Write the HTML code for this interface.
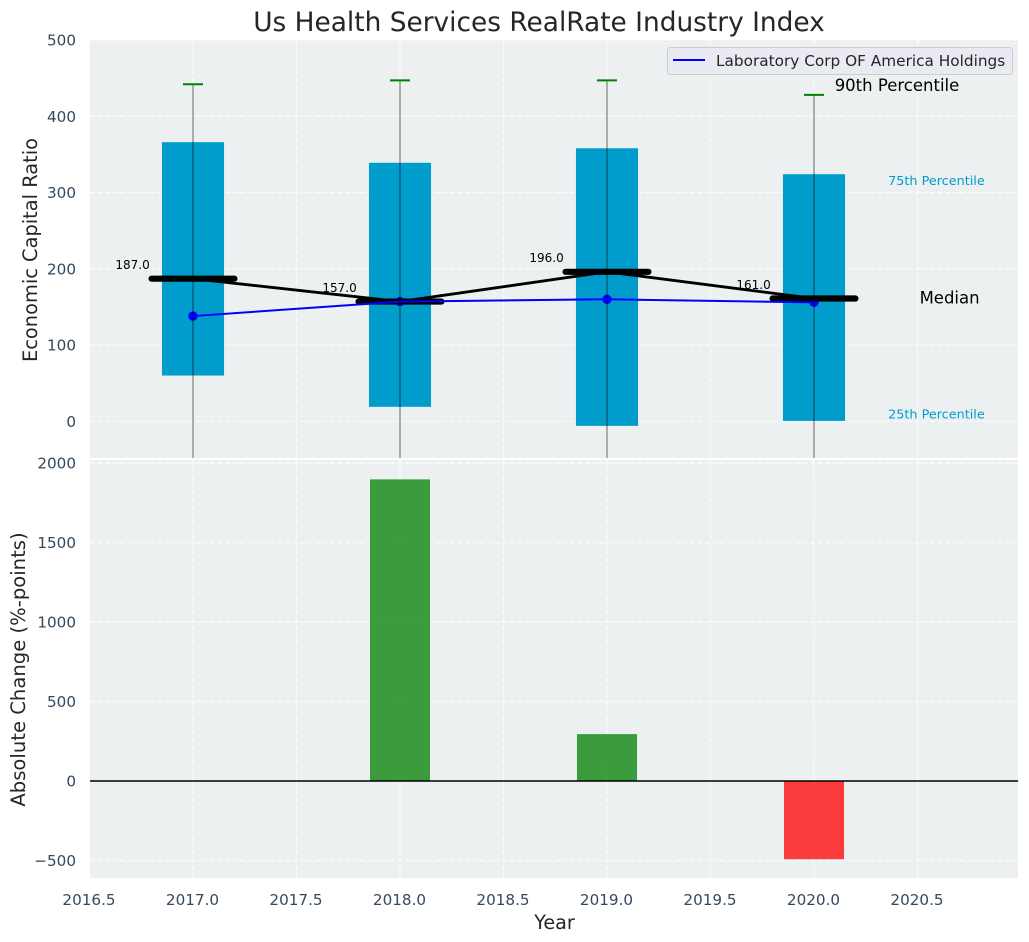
<!DOCTYPE html>
<html>
<head>
<meta charset="utf-8">
<title>Us Health Services RealRate Industry Index</title>
<style>
html,body{margin:0;padding:0;background:#fff;width:1029px;height:942px;overflow:hidden}
svg{display:block}
text{font-family:"DejaVu Sans","Liberation Sans",sans-serif}
</style>
</head>
<body>
<svg id="chart" xmlns="http://www.w3.org/2000/svg" width="1029" height="942" viewBox="0 0 1029 942">
  <defs>
    <clipPath id="clip-top"><rect x="90" y="40" width="928" height="418"/></clipPath>
    <clipPath id="clip-bottom"><rect x="90" y="460" width="928" height="418"/></clipPath>
  </defs>
  <rect x="90" y="40" width="928" height="418" fill="#ecf0f1"/>
  <rect x="90" y="460" width="928" height="418" fill="#ecf0f1"/>
  <g id="top-grid" clip-path="url(#clip-top)"></g>
  <g id="bottom-grid" clip-path="url(#clip-bottom)"></g>
  <g id="top-marks" clip-path="url(#clip-top)"></g>
  <g id="bottom-marks" clip-path="url(#clip-bottom)"></g>
  <g id="tick-labels"></g>
  <text x="539" y="31" text-anchor="middle" font-size="26.4" fill="#262626">Us Health Services RealRate Industry Index</text>
  <text transform="translate(37,250) rotate(-90)" text-anchor="middle" font-size="19.4" fill="#262626">Economic Capital Ratio</text>
  <text transform="translate(25,669.5) rotate(-90)" text-anchor="middle" font-size="19.6" fill="#262626">Absolute Change (%-points)</text>
  <text x="554.5" y="929" text-anchor="middle" font-size="19.2" fill="#262626">Year</text>
  <g>
    <rect x="667.5" y="47.5" width="345" height="27" rx="3" fill="#eaeaf2" fill-opacity="0.9" stroke="#cccccc"/>
    <line x1="673" y1="60" x2="705" y2="60" stroke="#0000ff" stroke-width="2"/>
    <text x="716" y="66" font-size="15.3" fill="#262626">Laboratory Corp OF America Holdings</text>
  </g>
</svg>
<script>
var years = [2017, 2018, 2019, 2020];
var p90 = [442, 447, 447, 428];
var p75 = [366, 339, 358, 324];
var p50 = [187, 157, 196, 161];
var p25 = [60, 19, -6, 0.5];
var p10 = [-60, -60, -60, -60];
var company = [138, 157, 160, 156];
var changeYears = [2018, 2019, 2020];
var changes = [1897, 295, -492];
var xTicks = [2016.5, 2017, 2017.5, 2018, 2018.5, 2019, 2019.5, 2020, 2020.5];
var topTicks = [0, 100, 200, 300, 400, 500];
var bottomTicks = [-500, 0, 500, 1000, 1500, 2000];

var NS = 'http://www.w3.org/2000/svg';
function x(v) { return 193 + (v - 2017) * 207; }
function yTop(v) { return 421.3 - v * 0.7626; }
function yBottom(v) { return 781 - v * 0.159; }
function make(parent, tag, attrs, text) {
  var el = document.createElementNS(NS, tag);
  for (var k in attrs) el.setAttribute(k, attrs[k]);
  if (text !== undefined) el.textContent = text;
  parent.appendChild(el);
  return el;
}
var topGrid = document.getElementById('top-grid');
var bottomGrid = document.getElementById('bottom-grid');
var topMarks = document.getElementById('top-marks');
var bottomMarks = document.getElementById('bottom-marks');
var tickLabels = document.getElementById('tick-labels');
var TICK_SIZE = 15.2;

function gridLine(parent, a, b, c, d) {
  var g = make(parent, 'line', {x1: a, y1: b, x2: c, y2: d, stroke: '#ffffff', 'stroke-width': 1.2, 'stroke-opacity': 0.8, 'stroke-dasharray': '5 2.5'});
  
  
}

xTicks.forEach(function (t) {
  gridLine(topGrid, x(t), 40, x(t), 458);
  gridLine(bottomGrid, x(t), 460, x(t), 878);
  var lab = make(tickLabels, 'text', {x: x(t) - 0.5, y: 905, 'text-anchor': 'middle', 'font-size': TICK_SIZE, fill: '#34495e'}, t.toFixed(1));
  
  
});
topTicks.forEach(function (t) {
  gridLine(topGrid, 90, yTop(t), 1018, yTop(t));
  var lab = make(tickLabels, 'text', {x: 76, y: yTop(t) + 5.5, 'text-anchor': 'end', 'font-size': TICK_SIZE, fill: '#34495e'}, String(t));
  
  
});
bottomTicks.forEach(function (t) {
  gridLine(bottomGrid, 90, yBottom(t), 1018, yBottom(t));
  var lab = make(tickLabels, 'text', {x: 76, y: yBottom(t) + 5.5, 'text-anchor': 'end', 'font-size': TICK_SIZE, fill: '#34495e'}, String(t).replace('-', '\u2212'));
  
  
});

years.forEach(function (yr, i) {
  var box = make(topMarks, 'rect', {x: x(yr - 0.15), y: yTop(p75[i]), width: x(yr + 0.15) - x(yr - 0.15), height: yTop(p25[i]) - yTop(p75[i]), fill: '#009ccc'});
  
  
});

function pointsOf(xs, ys) {
  return xs.map(function (v, i) { return x(v) + ',' + yTop(ys[i]); }).join(' ');
}

years.forEach(function (yr, i) {
  var dot = make(topMarks, 'circle', {cx: x(yr), cy: yTop(company[i]), r: 4.7, fill: '#0000ff'});
  
  
});

years.forEach(function (yr, i) {
  var whisker = make(topMarks, 'line', {x1: x(yr), y1: yTop(p90[i]), x2: x(yr), y2: yTop(p10[i]), stroke: '#000000', 'stroke-opacity': 0.45, 'stroke-width': 1.3});
  
  
  var cap = make(topMarks, 'line', {x1: x(yr) - 10, y1: yTop(p90[i]), x2: x(yr) + 10, y2: yTop(p90[i]), stroke: '#008000', 'stroke-width': 2});
  
  
});

var medianLine = make(topMarks, 'polyline', {points: pointsOf(years, p50), fill: 'none', stroke: '#000000', 'stroke-width': 2.8});


years.forEach(function (yr, i) {
  var tick = make(topMarks, 'line', {x1: x(yr - 0.2), y1: yTop(p50[i]), x2: x(yr + 0.2), y2: yTop(p50[i]), stroke: '#000000', 'stroke-width': 6.2, 'stroke-linecap': 'round'});
  
  
  var lab = make(topMarks, 'text', {x: x(yr - 0.375), y: yTop(p50[i]) - 9.7, 'font-size': 12, fill: '#000000'}, p50[i].toFixed(1));
  
  
});

var companyLine = make(topMarks, 'polyline', {points: pointsOf(years, company), fill: 'none', stroke: '#0000ff', 'stroke-width': 2});



var last = years.length - 1;
var note90 = make(topMarks, 'text', {x: x(years[last] + 0.1), y: yTop(p90[last]) - 4, 'font-size': 16.5, fill: '#000000'}, '90th Percentile');


var note75 = make(topMarks, 'text', {x: x(years[last] + 0.358), y: yTop(p75[last]) + 11, 'font-size': 12.8, fill: '#009ccc'}, '75th Percentile');


var noteMed = make(topMarks, 'text', {x: x(years[last] + 0.51), y: yTop(p50[last]) + 5, 'font-size': 16.5, fill: '#000000'}, 'Median');


var note25 = make(topMarks, 'text', {x: x(years[last] + 0.358), y: yTop(p25[last]) - 2.3, 'font-size': 12.8, fill: '#009ccc'}, '25th Percentile');



changeYears.forEach(function (yr, i) {
  var v = changes[i];
  var top = yBottom(Math.max(v, 0));
  var h = Math.abs(yBottom(v) - yBottom(0));
  var bar = make(bottomMarks, 'rect', {x: x(yr - 0.145), y: top, width: x(yr + 0.145) - x(yr - 0.145), height: h, fill: v >= 0 ? '#008000' : '#ff0000', 'fill-opacity': 0.75});
  
  
});
var zero = make(bottomMarks, 'line', {x1: 90, y1: yBottom(0), x2: 1018, y2: yBottom(0), stroke: '#000000', 'stroke-width': 1.4});


</script>
</body>
</html>
